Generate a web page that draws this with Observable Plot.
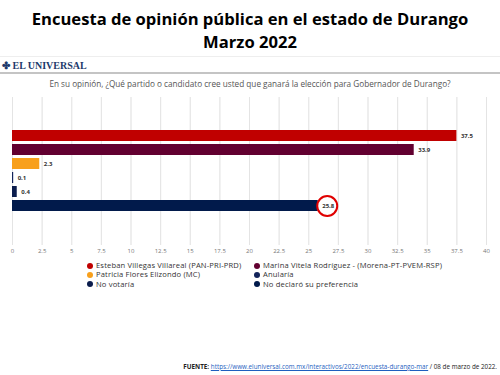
<!DOCTYPE html>
<html><head><meta charset="utf-8">
<script src="https://cdn.jsdelivr.net/npm/d3@7"></script>
<script src="https://cdn.jsdelivr.net/npm/@observablehq/plot@0.6"></script>
<style>
html,body{margin:0;padding:0;background:#fff;}
#wrap{position:relative;width:500px;height:375px;overflow:hidden;font-family:"Open Sans",sans-serif;}
#title{position:absolute;top:7px;left:0;width:500px;text-align:center;font-weight:700;font-size:16.6px;line-height:23px;color:#000;}
#hr1{position:absolute;top:56px;left:0;width:500px;height:1px;background:#eee;}
#logo{position:absolute;top:60px;left:2px;font-family:"Liberation Serif",serif;font-weight:700;font-size:10px;color:#1d3a6b;}
#hr2{position:absolute;top:72px;left:0;width:500px;height:2px;background:#c4c4c4;}
#sub{position:absolute;top:78px;left:0;width:500px;text-align:center;font-size:8.2px;color:#555;}
#chart{position:absolute;top:92px;left:0;}
#legend{position:absolute;top:261px;left:87px;width:410px;font-size:7.6px;letter-spacing:0.15px;color:#333;}
.li{position:absolute;white-space:nowrap;line-height:9px;}
.sw{display:inline-block;width:6px;height:6px;border-radius:50%;margin-right:3px;vertical-align:-0.5px;}
#foot{position:absolute;top:362px;right:3px;font-size:6.3px;color:#222;white-space:nowrap;}
#foot a{color:#1f5fbf;text-decoration:underline;}
</style></head>
<body><div id="wrap">
<div id="title">Encuesta de opinión pública en el estado de Durango<br>Marzo 2022</div>
<div id="hr1"></div>
<div id="logo">✤ EL UNIVERSAL</div>
<div id="hr2"></div>
<div id="sub">En su opinión, ¿Qué partido o candidato cree usted que ganará la elección para Gobernador de Durango?</div>
<div id="chart"></div>
<div id="legend"></div>
<div id="foot"><b>FUENTE:</b> <a>https://www.eluniversal.com.mx/interactivos/2022/encuesta-durango-mar</a> / 08 de marzo de 2022.</div>
</div>
<script>
const categories = ["Esteban Villegas Villareal (PAN-PRI-PRD)","Marina Vitela Rodríguez - (Morena-PT-PVEM-RSP)","Patricia Flores Elizondo (MC)","Anularía","No votaría","No declaró su preferencia"];
const values = [37.5, 33.9, 2.3, 0.1, 0.4, 25.8];
const colors = ["#c00000","#620030","#f8a01c","#13245a","#0b1d4d","#011a4b"];
const legendOrder = [0,2,4,1,3,5];
const xTicks = [0,2.5,5,7.5,10,12.5,15,17.5,20,22.5,25,27.5,30,32.5,35,37.5,40];
const highlighted = ["No declaró su preferencia"];

const data = categories.map((c,i)=>({cat:c, v:values[i], col:colors[i]}));

const chart = Plot.plot({
  width: 500, height: 168,
  marginLeft: 12, marginRight: 14, marginTop: 5, marginBottom: 15,
  x: {domain:[0,40], ticks: xTicks, tickFormat: d=>String(d), grid:true, label:null, tickSize:0, tickPadding:3},
  y: {domain: categories, axis:null, padding:0.2, insetTop:29, insetBottom:29},
  style: {fontFamily:"Open Sans, sans-serif", fontSize:"6px", color:"#777"},
  marks: [
    Plot.gridX(xTicks, {stroke:"#e4e4e4", strokeOpacity:1, strokeWidth:1}),
    Plot.barX(data, {x:"v", y:"cat", fill:"col"}),
    Plot.text(data, {x:"v", y:"cat", text:d=>d.v.toFixed(1), dx:4, textAnchor:"start", fontWeight:"bold", fill:"#333", fontSize:6}),
    Plot.dot(data.filter(d=>highlighted.includes(d.cat)), {x:"v", y:"cat", dx:9, r:10, stroke:"#e00000", strokeWidth:2, fill:"none"})
  ]
});
document.getElementById("chart").appendChild(chart);

const lg = document.getElementById("legend");
legendOrder.forEach((i,k)=>{
  const col = Math.floor(k/3), row = k%3;
  const el = document.createElement("div");
  el.className="li";
  el.style.left = (col*167)+"px";
  el.style.top = (row*9.3)+"px";
  el.innerHTML = `<span class="sw" style="background:${colors[i]}"></span>${categories[i]}`;
  lg.appendChild(el);
});
</script>
</body></html>
